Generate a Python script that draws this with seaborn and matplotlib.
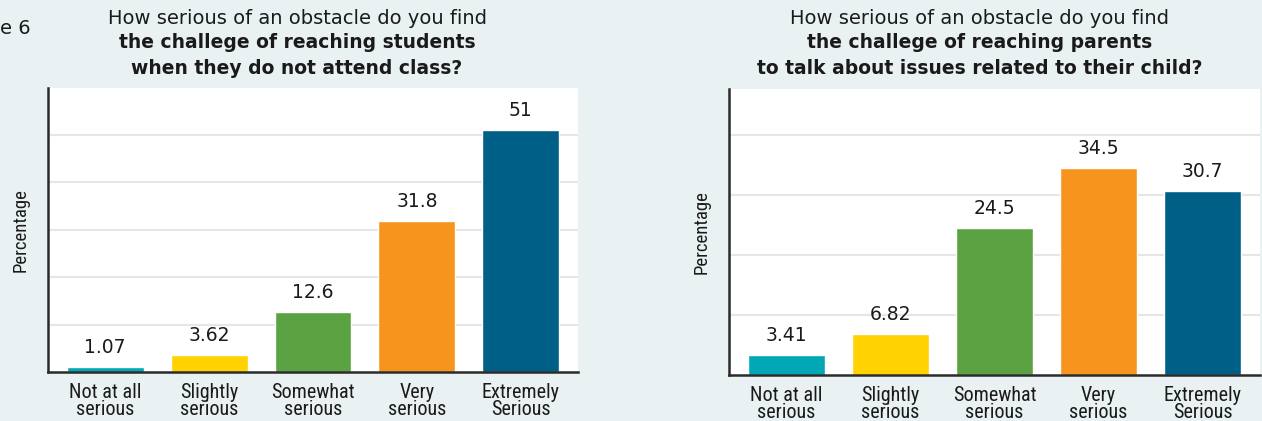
import matplotlib
matplotlib.use("Agg")
import matplotlib.pyplot as plt
import seaborn as sns
import pandas as pd

categories = ["Not at all\nserious", "Slightly\nserious", "Somewhat\nserious", "Very\nserious", "Extremely\nSerious"]
students_values = [1.07, 3.62, 12.6, 31.8, 51]
parents_values = [3.41, 6.82, 24.5, 34.5, 30.7]
label_students = ["1.07", "3.62", "12.6", "31.8", "51"]
label_parents = ["3.41", "6.82", "24.5", "34.5", "30.7"]
colors = ["#00A8B6", "#FFD200", "#5BA243", "#F7941E", "#005F87"]
title_students = ["How serious of an obstacle do you find", "the challege of reaching students", "when they do not attend class?"]
title_parents = ["How serious of an obstacle do you find", "the challege of reaching parents", "to talk about issues related to their child?"]

sns.set_theme(style="white")
BG = "#E9F1F3"
title_font = ["DejaVu Sans"]
cond_font = ["Roboto Condensed", "Liberation Sans Narrow", "Arial Narrow", "Roboto", "DejaVu Sans"]

fig = plt.figure(figsize=(12.62, 4.21), dpi=100, facecolor=BG)
W, H = 1262, 421

def panel(rect, values, labels, ymax, ticks, title, tx):
    ax = fig.add_axes(rect)
    df = pd.DataFrame({"cat": categories, "val": values})
    sns.barplot(data=df, x="cat", y="val", hue="cat", palette=colors, width=0.74,
                saturation=1, legend=False, ax=ax)
    ax.set_facecolor("white")
    ax.set_xlim(-0.55, 4.55)
    ax.set_ylim(0, ymax)
    ax.set_yticks(ticks)
    ax.set_yticklabels([])
    ax.tick_params(axis="y", length=0)
    ax.tick_params(axis="x", length=0, pad=8)
    ax.yaxis.grid(True, color="#E6E6E6", linewidth=1.5)
    ax.set_axisbelow(True)
    for s in ["top", "right"]:
        ax.spines[s].set_visible(False)
    for s in ["left", "bottom"]:
        ax.spines[s].set_color("#2B2B2B")
        ax.spines[s].set_linewidth(1.8)
    for cont, lab in zip(ax.containers, labels):
        ax.bar_label(cont, labels=[lab], padding=7, fontsize=13.5, color="#1A1A1A",
                     family=title_font)
    ax.set_xlabel("")
    ax.set_ylabel("Percentage", family=cond_font, fontsize=13.5,
                  color="#1A1A1A", labelpad=10)
    for t in ax.get_xticklabels():
        t.set_family(cond_font)
        t.set_fontsize(14.5)
        t.set_color("#1A1A1A")
        t.set_linespacing(0.85)
        t.set_verticalalignment("top")
    fig.text(tx / W, 1 - 18 / H, title[0], ha="center", va="center", fontsize=14,
             family=title_font, color="#1A1A1A")
    fig.text(tx / W, 1 - 43 / H, title[1], ha="center", va="center", fontsize=13.5,
             family=title_font, fontweight="bold", color="#1A1A1A")
    fig.text(tx / W, 1 - 68 / H, title[2], ha="center", va="center", fontsize=13.5,
             family=title_font, fontweight="bold", color="#1A1A1A")
    return ax

panel([48 / W, (H - 372) / H, 530 / W, 284 / H], students_values, label_students,
      59.8, [10, 20, 30, 40, 50], title_students, 297)
panel([729 / W, (H - 375) / H, 531 / W, 286 / H], parents_values, label_parents,
      47.7, [10, 20, 30, 40], title_parents, 980)

fig.text(0 / W, 1 - 28 / H, "e 6", ha="left", va="center", fontsize=14,
         family=title_font, color="#1A1A1A")

fig.savefig("out.png", dpi=100, facecolor=BG)
